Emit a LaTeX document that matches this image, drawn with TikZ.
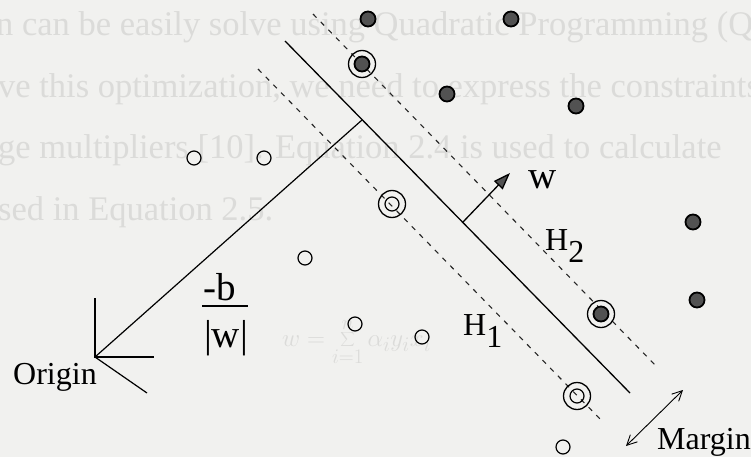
\documentclass[tikz,border=0pt]{standalone}
\usepackage{fontspec}
\setmainfont{Liberation Serif}
\usetikzlibrary{arrows.meta}
\definecolor{bgcol}{RGB}{241,241,239}
\definecolor{dotcol}{RGB}{82,82,82}
\definecolor{ghostcol}{RGB}{219,219,217}
\tikzset{
  sep line/.style={line width=1.3pt, black},
  margin line/.style={line width=1.1pt, dash pattern=on 5pt off 6pt, black!85},
  axis line/.style={line width=1.2pt},
  pos dot/.style={circle, draw, fill=dotcol, minimum size=15pt, inner sep=0pt, line width=1.8pt},
  neg dot/.style={circle, draw, minimum size=14pt, inner sep=0pt, line width=1.2pt},
  sv ring/.style={circle, draw, minimum size=27pt, inner sep=0pt, line width=1.3pt},
  sv inner/.style={circle, draw, minimum size=14pt, inner sep=0pt, line width=1.2pt},
  lbl/.style={font=\fontsize{32}{38}\selectfont, inner sep=0pt},
  mlbl/.style={font=\fontsize{39}{46}\selectfont, inner sep=0pt},
  ghost/.style={font=\fontsize{34.5}{40}\selectfont, text=ghostcol, inner sep=0pt, anchor=base west},
  warr/.style={-{Triangle[length=17pt, width=12pt, fill=dotcol]}, line width=1.3pt},
  marr/.style={{Straight Barb[length=10pt, width=10pt]}-{Straight Barb[length=10pt, width=10pt]}, line width=0.9pt},
}

\begin{document}
\begin{tikzpicture}[x=1pt, y=-1pt]
    \fill[bgcol] (0,0) rectangle (751,457);
    \useasboundingbox (0,0) rectangle (751,457);

    % text of the page showing through
    \node[ghost] (g1) at (-4,36) {n can be easily solve using Quadratic Programming (QP)};
    \node[ghost] (g2) at (-2,98) {ve this optimization, we need to express the constraints};
    \node[ghost] (g3) at (-2,158) {ge multipliers [10]. Equation 2.4 is used to calculate};
    \node[ghost] (g4) at (-2,220) {sed in Equation 2.5.};
    \node[ghost, anchor=west, font=\fontsize{30}{36}\selectfont] (geq) at (282,342) {$\displaystyle w=\sum_{i=1}^{n}\alpha_i y_i x_i$};

    % separating plane and margins
    \coordinate (h1 top) at (258,69);
    \coordinate (h1 end) at (603,422);
    \coordinate (h0 top) at (285,41);
    \coordinate (h0 end) at (630,393);
    \coordinate (h2 top) at (313,14);
    \coordinate (h2 end) at (657,367);
    \draw[margin line] (h1 top) -- (h1 end);
    \draw[sep line] (h0 top) -- (h0 end);
    \draw[margin line] (h2 top) -- (h2 end);

    % origin with axes
    \coordinate (origin) at (95,357);
    \coordinate (ax y) at (95,298);
    \coordinate (ax x) at (154,357);
    \coordinate (ax z) at (147,393);
    \coordinate (foot) at (362,120);
    \draw[axis line] (ax y) -- (origin) -- (ax x);
    \draw[axis line] (origin) -- (ax z);
    \draw[axis line] (origin) -- (foot);

    % normal vector
    \coordinate (w foot) at (463,222);
    \coordinate (w tip) at (510,173);
    \draw[warr] (w foot) -- (w tip);

    % class +1
    \node[pos dot] (p1) at (368,19) {};
    \node[pos dot] (p2) at (511,19) {};
    \node[pos dot] (p3) at (447,94) {};
    \node[pos dot] (p4) at (576,106) {};
    \node[pos dot] (p5) at (693,222) {};
    \node[pos dot] (p6) at (697,300) {};
    \node[sv ring] (sv1) at (362,64) {};
    \node[pos dot] at (sv1) {};
    \node[sv ring] (sv2) at (601,314) {};
    \node[pos dot] at (sv2) {};

    % class -1
    \node[neg dot] (n1) at (194,158) {};
    \node[neg dot] (n2) at (264,158) {};
    \node[neg dot] (n3) at (305,258) {};
    \node[neg dot] (n4) at (355,324) {};
    \node[neg dot] (n5) at (422,337) {};
    \node[neg dot] (n6) at (563,447) {};
    \node[sv ring] (sv3) at (392,204) {};
    \node[sv inner] at (sv3) {};
    \node[sv ring] (sv4) at (577,396) {};
    \node[sv inner] at (sv4) {};

    % labels
    \node[lbl, anchor=base west] (origin lbl) at (13,384) {Origin};
    \node[mlbl, anchor=base] (num) at (220,300) {-b};
    \node[mlbl, anchor=base] (den) at (226,347) {|w|};
    \coordinate (bar l) at (202,306);
    \coordinate (bar r) at (248,306);
    \draw[line width=1.5pt] (bar l) -- (bar r);
    \node[mlbl, anchor=base west] (w lbl) at (528,188) {w};
    \node[lbl, anchor=base west] (h2 lbl) at (545,250) {H\lower12pt\hbox{2}};
    \node[lbl, anchor=base west] (h1 lbl) at (463,335) {H\lower12pt\hbox{1}};
    \node[lbl, anchor=base west] (margin lbl) at (657,449) {Margin};
    \coordinate (m low) at (626,446);
    \coordinate (m high) at (683,390);
    \draw[marr] (m low) -- (m high);
\end{tikzpicture}
\end{document}
